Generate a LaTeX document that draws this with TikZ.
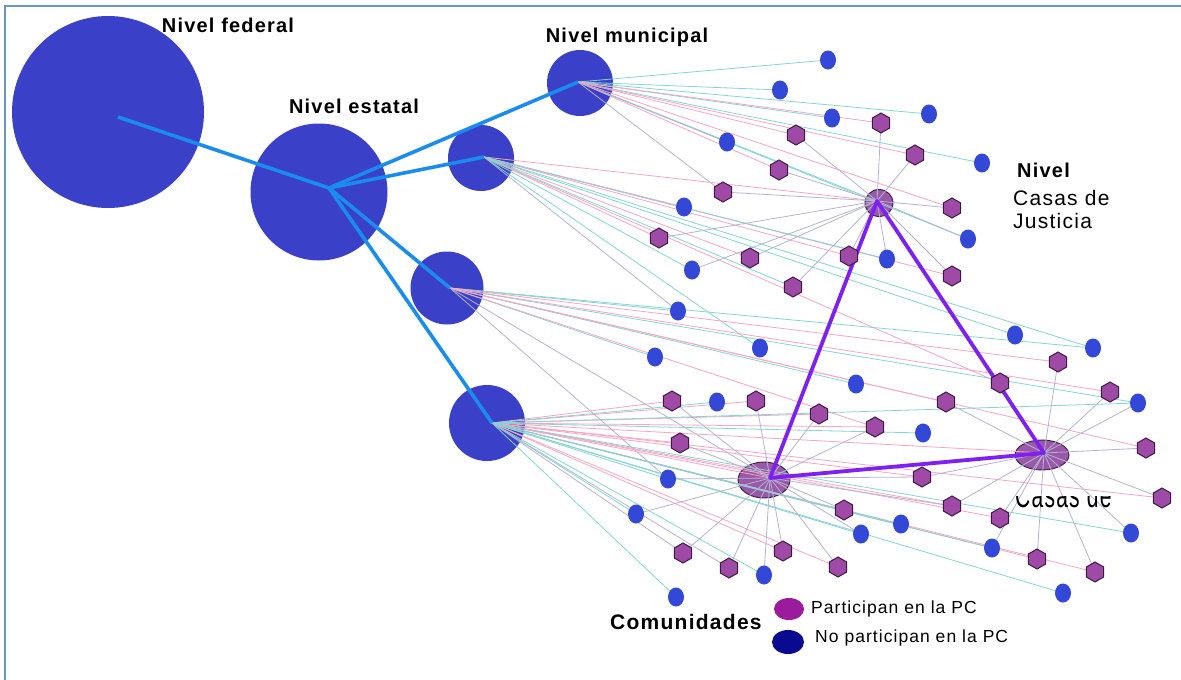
\documentclass[tikz,border=0pt]{standalone}
\usepackage{fontspec}
\setmainfont{Liberation Sans}
\newfontfamily\labf[LetterSpace=6]{Liberation Sans}
\usetikzlibrary{shapes.geometric,shapes.misc}
\pgfdeclarelayer{bg}\pgfdeclarelayer{ln}
\pgfsetlayers{bg,ln,main}
\definecolor{bigblue}{RGB}{58,64,200}
\definecolor{thickblue}{RGB}{26,140,240}
\definecolor{tri}{RGB}{125,32,240}
\definecolor{pcfill}{RGB}{160,74,168}
\definecolor{pcdraw}{RGB}{58,26,64}
\definecolor{cjfill}{RGB}{154,88,168}
\definecolor{npcblue}{RGB}{52,72,216}
\definecolor{pinkl}{RGB}{244,166,196}
\definecolor{cyanl}{RGB}{134,212,212}
\definecolor{grayl}{RGB}{180,180,208}
\definecolor{legp}{RGB}{156,26,156}
\definecolor{legb}{RGB}{10,10,144}
\definecolor{framec}{RGB}{106,150,200}
\begin{document}
\begin{tikzpicture}[x=1pt,y=-1pt,
  big/.style={circle,fill=bigblue,inner sep=0},
  cj/.style={ellipse,fill=cjfill,draw=pcdraw,line width=0.9pt,inner sep=0},
  pc/.style={regular polygon,regular polygon sides=6,shape border rotate=90,fill=pcfill,draw=pcdraw,line width=1pt,inner sep=0,minimum size=20pt},
  npc/.style={ellipse,fill=npcblue,inner sep=0,minimum width=16pt,minimum height=19pt},
  pk/.style={pinkl,line width=0.8pt},
  cy/.style={cyanl,line width=0.8pt},
  gr/.style={grayl,line width=0.8pt},
  thickb/.style={thickblue,line width=3.6pt},
  thickp/.style={tri,line width=3.8pt},
  head/.style={font=\labf\bfseries\fontsize{20}{24}\selectfont,inner sep=0,anchor=base},
  headl/.style={font=\labf\fontsize{21}{25}\selectfont,inner sep=0,anchor=base west},
  leg/.style={font=\labf\fontsize{17.5}{21}\selectfont,inner sep=0,anchor=base west}]
\useasboundingbox (0,0) rectangle (1181,680);

\begin{pgfonlayer}{bg}
\fill[white] (0,0) rectangle (1181,680);
\draw[framec,line width=2pt] (1181,6) -- (5,6) -- (5,680);
\node[big,minimum size=192pt] (fed) at (108,112) {};
\node[big,minimum size=137pt] (est) at (319,192) {};
\node[big,minimum size=66pt] (m1) at (580,83) {};
\node[big,minimum size=66pt] (m2) at (481,158) {};
\node[big,minimum size=73pt] (m3) at (447,288) {};
\node[big,minimum size=76pt] (m4) at (487,423) {};
\node[cj,minimum width=28pt,minimum height=27pt] (cj1) at (879,203) {};
\node[cj,minimum width=52pt,minimum height=36pt] (cj2) at (764,480) {};
\node[cj,minimum width=54pt,minimum height=30pt] (cj3) at (1042,455) {};
\end{pgfonlayer}

\coordinate (hfed) at (118,117);
\coordinate (hest) at (329,188);
\coordinate (hm1) at (578,82);
\coordinate (hm2) at (484,157);
\coordinate (hm3) at (450,288);
\coordinate (hm4) at (492,423);
\coordinate (hcj1) at (877,201);
\coordinate (hcj2) at (770,478);
\coordinate (hcj3) at (1044,453);

% participating communities
\foreach \n/\x/\y in {p1/881/123,p2/796/135,p3/915/155,p4/779/170,p5/723/192,p6/952/208,
  p7/659/238,p8/750/258,p9/849/256,p10/952/276,p11/793/287,p12/1058/362,p13/1000/383,
  p14/1110/392,p15/946/402,p16/672/401,p17/756/401,p18/819/414,p19/875/427,p20/680/443,
  p21/1146/448,p22/922/477,p23/1162/498,p24/844/510,p25/952/506,p26/1000/518,p27/683/553,
  p28/783/551,p29/729/568,p30/838/567,p31/1037/559,p32/1095/572}
  {\node[pc] (\n) at (\x,\y) {};}
% non-participating communities
\foreach \n/\x/\y in {b1/828/60,b2/780/90,b3/832/118,b4/929/114,b5/727/142,b6/982/163,
  b7/684/207,b8/968/239,b9/692/270,b10/887/259,b11/678/311,b12/760/348,b13/1015/335,
  b14/1093/348,b15/655/357,b16/856/384,b17/717/402,b18/1138/403,b19/923/433,b20/668/479,
  b21/636/514,b22/861/534,b23/901/524,b24/992/548,b25/764/575,b26/676/597,b27/1063/593,
  b28/1131/533}
  {\node[npc] (\n) at (\x,\y) {};}

\begin{pgfonlayer}{ln}
% municipal 1
\foreach \t in {b1,b2,b3,b4,b6,b8} \draw[cy] (hm1) -- (\t.center);
\draw[cy] (hm1) -- (hcj1);
\foreach \t in {p1,p2,p3,p4,p6} \draw[pk] (hm1) -- (\t.center);
\foreach \t in {b5,p5} \draw[gr] (hm1) -- (\t.center);
% municipal 2
\foreach \t in {b7,p7,p8,p9,p10,p13} \draw[pk] (hm2) -- (\t.center);
\draw[pk] (hm2) -- (hcj1);
\foreach \t in {b9,b10,b13,p11,b14,b12} \draw[cy] (hm2) -- (\t.center);
\draw[gr] (hm2) -- (b11.center);
% municipal 3
\foreach \t in {b11,b15,b16,b18,b14} \draw[cy] (hm3) -- (\t.center);
\foreach \t in {p12,p14,p21,p15,p19} \draw[pk] (hm3) -- (\t.center);
\draw[gr] (hm3) -- (hcj2);
\draw[gr] (hm3) -- (b20.center);
% municipal 4
\foreach \t in {p16,p17,p18,p19,p22,p23,p24,p25,p26,p28,p30,p32,p31,p20} \draw[pk] (hm4) -- (\t.center);
\draw[pk] (hm4) -- (hcj2);
\draw[pk] (hm4) -- (hcj3);
\foreach \t in {b19,b20,b21,b22,b23,b24,b25,b26,b27,b17,b18,b28} \draw[cy] (hm4) -- (\t.center);
\foreach \t in {p27,p29} \draw[gr] (hm4) -- (\t.center);
% Casas de Justicia stars
\foreach \t in {p1,p3,p6,b8,p10,b10,p9,p8,p4,p5,p7,p11,b9,p2} \draw[gr] (hcj1) -- (\t.center);
\foreach \t in {p16,p17,p18,p19,p20,b20,b21,p27,p28,p29,p30,b25,p24,b22,p22,p25} \draw[gr] (hcj2) -- (\t.center);
\foreach \t in {p12,p13,p14,p15,p21,p23,p22,p26,p31,p32,b18,b24,b28,p25} \draw[gr] (hcj3) -- (\t.center);
% thick links
\draw[thickb] (hfed) -- (hest);
\foreach \t in {hm1,hm2,hm3,hm4} \draw[thickb] (hest) -- (\t);
\draw[thickp,line join=round] (hcj1) -- (hcj2) -- (hcj3) -- cycle;
\end{pgfonlayer}

% labels
\node[head] (lfed) at (228,32) {Nivel federal};
\node[head] (lest) at (354,113) {Nivel estatal};
\node[head] (lmun) at (627,42) {Nivel municipal};
\node[head,anchor=base west] (lniv) at (1017,177) {Nivel};
\node[headl] (lcas) at (1013,205) {Casas de};
\node[headl] (ljus) at (1013,228) {Justicia};
\begin{scope}
\clip (1005,496) rectangle (1125,515);
\node[headl,yscale=1.6,transform shape] (lcas2) at (1015,507) {Casas de};
\end{scope}
\node[head,anchor=base west,font=\labf\bfseries\fontsize{21}{25}\selectfont] (lcom) at (610,629) {Comunidades};

% legend
\node[ellipse,fill=legp,minimum width=30pt,minimum height=22pt,inner sep=0] (lgp) at (789,609) {};
\node[ellipse,fill=legb,minimum width=32pt,minimum height=24pt,inner sep=0] (lgb) at (788,642) {};
\node[leg] (tgp) at (811,613) {Participan en la PC};
\node[leg] (tgb) at (815,642) {No participan en la PC};
\end{tikzpicture}
\end{document}
